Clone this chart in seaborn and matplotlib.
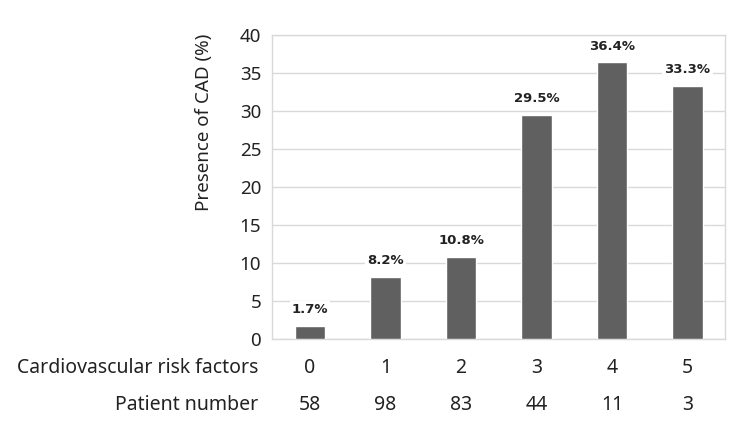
import matplotlib
matplotlib.use("Agg")
import matplotlib.pyplot as plt
import matplotlib.transforms as mtransforms
import seaborn as sns
import pandas as pd

# データ
risk_factors = ["0", "1", "2", "3", "4", "5"]
cad_percent = [1.7, 8.2, 10.8, 29.5, 36.4, 33.3]
patient_number = [58, 98, 83, 44, 11, 3]
bar_labels = ["1.7%", "8.2%", "10.8%", "29.5%", "36.4%", "33.3%"]

sns.set_style("white")
plt.rcParams['font.family'] = ['Noto Sans', 'DejaVu Sans']

df = pd.DataFrame({"risk": risk_factors, "cad": cad_percent})

fig = plt.figure(figsize=(7.4, 4.23), dpi=100)
ax = fig.add_axes([0.368, 0.199, 0.612, 0.718])
sns.barplot(data=df, x="risk", y="cad", color="#606060", width=0.4,
            saturation=1, ax=ax, zorder=3)

ax.set_ylim(0, 40)
ax.set_yticks(range(0, 41, 5))
ax.tick_params(axis="y", labelsize=13.5, length=0, pad=8, labelcolor="#222222")
ax.set_xticks([])
ax.set_xlabel("")
ax.set_ylabel("Presence of CAD (%)", fontsize=13.5, color="#222222")
# ラベルは軸の中央より上寄り
ax.yaxis.set_label_coords(-0.13, 0.714)
ax.grid(axis="y", color="#d9d9d9", linewidth=1, zorder=0)
for sp in ax.spines.values():
    sp.set_color("#d9d9d9")
    sp.set_linewidth(1)

# バー上のラベル（グリッド線を白背景で隠す）
for i, (v, lab) in enumerate(zip(cad_percent, bar_labels)):
    ax.text(i, v + 1.3, lab, ha="center", va="bottom", fontsize=9.5,
            fontweight="bold", family="DejaVu Sans", color="#222222", zorder=4,
            bbox=dict(facecolor="white", edgecolor="none", pad=1.5))

# 下の表
trans = mtransforms.blended_transform_factory(ax.transData, fig.transFigure)
row1_y = 1 - 368 / 423
row2_y = 1 - 405 / 423
for i, (r, n) in enumerate(zip(risk_factors, patient_number)):
    ax.text(i, row1_y, r, transform=trans, ha="center", va="center", fontsize=14, color="#222222")
    ax.text(i, row2_y, str(n), transform=trans, ha="center", va="center", fontsize=14, color="#222222")
fig.text(258 / 740, row1_y, "Cardiovascular risk factors", ha="right", va="center", fontsize=14, color="#222222")
fig.text(258 / 740, row2_y, "Patient number", ha="right", va="center", fontsize=14, color="#222222")

plt.savefig("out.png", dpi=100)
plt.close()
